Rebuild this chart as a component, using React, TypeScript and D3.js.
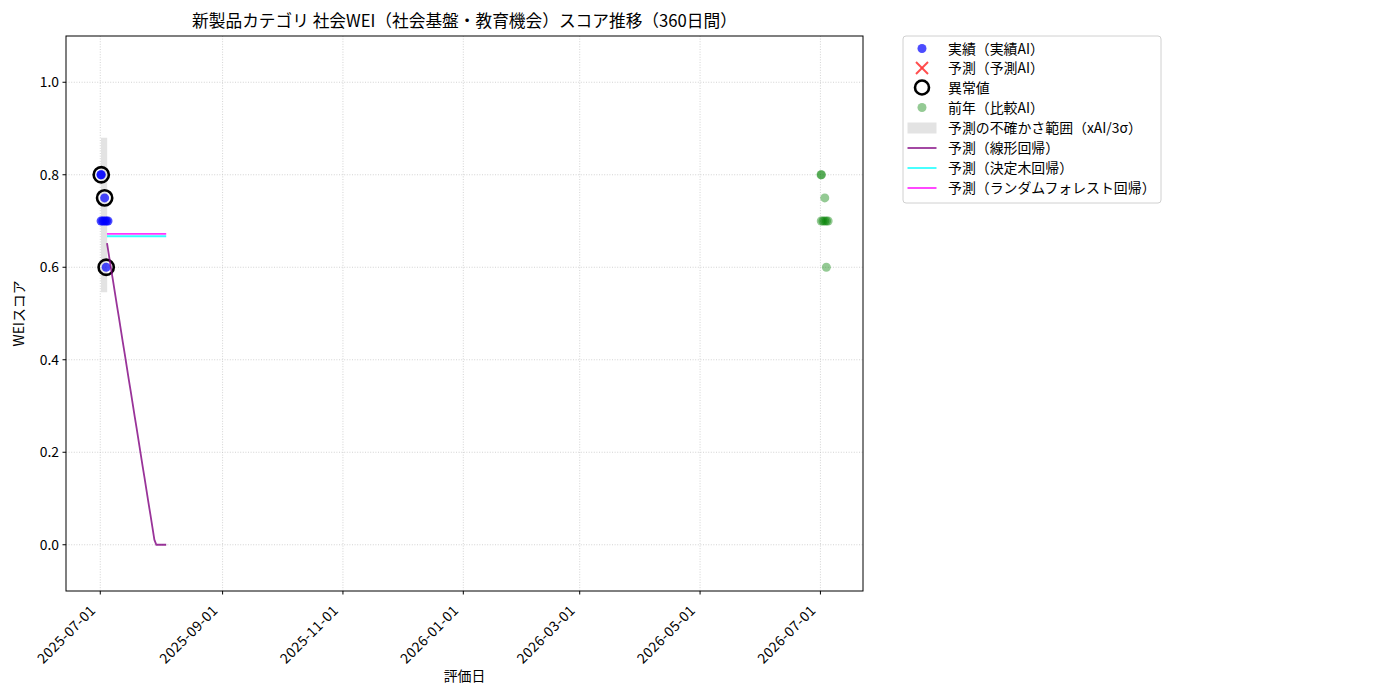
import * as d3 from "d3";
import React from "react";

// 実績データ
const actualDates = [
  "2025-07-01T07:00",
  "2025-07-01T12:00",
  "2025-07-03T05:00",
  "2025-07-01T10:00",
  "2025-07-02T07:00",
  "2025-07-03T05:00",
  "2025-07-04T02:00",
  "2025-07-04T22:00",
  "2025-07-04T00:00",
];
const actualScores = [0.8, 0.8, 0.75, 0.7, 0.7, 0.7, 0.7, 0.7, 0.6];

// 異常値
const outlierDates = ["2025-07-01T12:00", "2025-07-03T05:00", "2025-07-04T00:00"];
const outlierScores = [0.8, 0.75, 0.6];

// 前年（比較AI）
const prevDates = [
  "2026-07-01T07:00",
  "2026-07-01T12:00",
  "2026-07-03T05:00",
  "2026-07-01T10:00",
  "2026-07-02T07:00",
  "2026-07-03T05:00",
  "2026-07-04T02:00",
  "2026-07-04T22:00",
  "2026-07-04T00:00",
];
const prevScores = [0.8, 0.8, 0.75, 0.7, 0.7, 0.7, 0.7, 0.7, 0.6];

// 不確かさ範囲
const bandDates = ["2025-07-01T09:00", "2025-07-04T12:00"];
const bandLower = [0.546, 0.546];
const bandUpper = [0.88, 0.88];

// 予測（30日間）
const forecastStart = "2025-07-04T10:00";
const linearPred = [
  0.652, 0.625, 0.598, 0.572, 0.545, 0.518, 0.492, 0.465, 0.438, 0.412, 0.385,
  0.358, 0.332, 0.305, 0.278, 0.252, 0.225, 0.198, 0.171, 0.145, 0.118, 0.091,
  0.065, 0.038, 0.011, 0, 0, 0, 0, 0, 0,
];
const treePred = [
  0.667, 0.667, 0.667, 0.667, 0.667, 0.667, 0.667, 0.667, 0.667, 0.667, 0.667,
  0.667, 0.667, 0.667, 0.667, 0.667, 0.667, 0.667, 0.667, 0.667, 0.667, 0.667,
  0.667, 0.667, 0.667, 0.667, 0.667, 0.667, 0.667, 0.667, 0.667,
];
const forestPred = [
  0.672, 0.672, 0.672, 0.672, 0.672, 0.672, 0.672, 0.672, 0.672, 0.672, 0.672,
  0.672, 0.672, 0.672, 0.672, 0.672, 0.672, 0.672, 0.672, 0.672, 0.672, 0.672,
  0.672, 0.672, 0.672, 0.672, 0.672, 0.672, 0.672, 0.672, 0.672,
];

const xTickLabels = [
  "2025-07-01",
  "2025-09-01",
  "2025-11-01",
  "2026-01-01",
  "2026-03-01",
  "2026-05-01",
  "2026-07-01",
];
const yTicks = [0, 0.2, 0.4, 0.6, 0.8, 1.0];

const legendLabels = [
  "実績（実績AI）",
  "予測（予測AI）",
  "異常値",
  "前年（比較AI）",
  "予測の不確かさ範囲（xAI/3σ）",
  "予測（線形回帰）",
  "予測（決定木回帰）",
  "予測（ランダムフォレスト回帰）",
];

const title = "新製品カテゴリ 社会WEI（社会基盤・教育機会）スコア推移（360日間）";
const FONT = "'Noto Sans CJK JP', 'Noto Sans', sans-serif";
const FS = 13.9;

const parse = d3.utcParse("%Y-%m-%dT%H:%M");
const parseDay = d3.utcParse("%Y-%m-%d");

const App: React.FC = () => {
  const width = 1400;
  const height = 700;
  const margin = { top: 36, left: 66, right: 537, bottom: 109 };
  const innerW = width - margin.left - margin.right;
  const innerH = height - margin.top - margin.bottom;

  const ref0 = parseDay("2025-07-01")!;
  const ref1 = parseDay("2026-07-01")!;
  const dayMs = 86400000;
  const x = d3
    .scaleUtc()
    .domain([new Date(+ref0 - 17.37 * dayMs), new Date(+ref1 + 21.58 * dayMs)])
    .range([0, innerW]);
  const y = d3.scaleLinear().domain([-0.1, 1.1]).range([innerH, 0]);

  const fStart = parse(forecastStart)!;
  const fDates = linearPred.map((_, i) => d3.utcDay.offset(fStart, i));

  const line = d3
    .line<[Date, number]>()
    .x((d) => x(d[0]))
    .y((d) => y(d[1]));

  const area = d3
    .area<number>()
    .x((i) => x(parse(bandDates[i])!))
    .y0((i) => y(bandLower[i]))
    .y1((i) => y(bandUpper[i]));

  const xTicks = xTickLabels.map((s) => parseDay(s)!);

  const legendX = 903;
  const legendY = 36;
  const rowYs = [48.5, 68, 87.5, 107.5, 128, 148, 168, 188];

  return (
    <svg
      width={width}
      height={height}
      style={{ position: "absolute", left: 0, top: 0, background: "#fff" }}
      fontFamily={FONT}
    >
      <text x={margin.left + innerW / 2} y={27} fontSize={16.7} textAnchor="middle" fill="#000">
        {title}
      </text>
      <g transform={`translate(${margin.left},${margin.top})`}>
        {/* グリッド */}
        {xTicks.map((t, i) => (
          <line
            key={"gx" + i}
            x1={x(t)}
            x2={x(t)}
            y1={0}
            y2={innerH}
            stroke="#c8c8c8"
            strokeWidth={0.8}
            strokeDasharray="1,1.6"
          />
        ))}
        {yTicks.map((t, i) => (
          <line
            key={"gy" + i}
            x1={0}
            x2={innerW}
            y1={y(t)}
            y2={y(t)}
            stroke="#c8c8c8"
            strokeWidth={0.8}
            strokeDasharray="1,1.6"
          />
        ))}

        {/* 不確かさ範囲 */}
        <path d={area([0, 1]) ?? ""} fill="gray" fillOpacity={0.22} />

        {/* 実績 */}
        {actualDates.map((d, i) => (
          <circle
            key={"a" + i}
            cx={x(parse(d)!)}
            cy={y(actualScores[i])}
            r={4.5}
            fill="blue"
            fillOpacity={0.7}
          />
        ))}

        {/* 異常値 */}
        {outlierDates.map((d, i) => (
          <circle
            key={"o" + i}
            cx={x(parse(d)!)}
            cy={y(outlierScores[i])}
            r={7.6}
            fill="none"
            stroke="#000"
            strokeWidth={2.6}
          />
        ))}

        {/* 前年 */}
        {prevDates.map((d, i) => (
          <circle
            key={"p" + i}
            cx={x(parse(d)!)}
            cy={y(prevScores[i])}
            r={4.5}
            fill="green"
            fillOpacity={0.42}
          />
        ))}

        {/* 予測線 */}
        <path
          d={line(fDates.map((d, i) => [d, linearPred[i]])) ?? ""}
          fill="none"
          stroke="purple"
          strokeOpacity={0.8}
          strokeWidth={1.8}
        />
        <path
          d={line(fDates.map((d, i) => [d, treePred[i]])) ?? ""}
          fill="none"
          stroke="cyan"
          strokeOpacity={0.8}
          strokeWidth={1.8}
        />
        <path
          d={line(fDates.map((d, i) => [d, forestPred[i]])) ?? ""}
          fill="none"
          stroke="magenta"
          strokeOpacity={0.8}
          strokeWidth={1.8}
        />

        {/* 枠 */}
        <rect x={0} y={0} width={innerW} height={innerH} fill="none" stroke="#000" strokeWidth={1} />

        {/* X軸 */}
        {xTicks.map((t, i) => (
          <g key={"xt" + i} transform={`translate(${x(t)},${innerH})`}>
            <line y1={0} y2={3.5} stroke="#000" />
            <text
              transform="translate(-8,16) rotate(-45)"
              textAnchor="end"
              dominantBaseline="central"
              fontSize={FS}
              letterSpacing={0.4}
              fill="#000"
            >
              {xTickLabels[i]}
            </text>
          </g>
        ))}

        {/* Y軸 */}
        {yTicks.map((t, i) => (
          <g key={"yt" + i} transform={`translate(0,${y(t)})`}>
            <line x1={-3.5} x2={0} stroke="#000" />
            <text x={-7} dy="0.35em" textAnchor="end" fontSize={FS} fill="#000">
              {d3.format(".1f")(t)}
            </text>
          </g>
        ))}
      </g>

      <text x={margin.left + innerW / 2} y={681} textAnchor="middle" fontSize={FS} fill="#000">
        評価日
      </text>
      <text
        transform={`translate(24,${margin.top + innerH / 2}) rotate(-90)`}
        textAnchor="middle"
        fontSize={FS}
        fill="#000"
      >
        WEIスコア
      </text>

      {/* 凡例 */}
      <g>
        <rect
          x={legendX}
          y={legendY}
          width={258}
          height={167}
          rx={3}
          fill="#fff"
          fillOpacity={0.8}
          stroke="#d0d0d0"
        />
        <circle cx={922} cy={rowYs[0]} r={4.5} fill="blue" fillOpacity={0.7} />
        <g stroke="#ff3b3b" strokeOpacity={0.9} strokeWidth={2}>
          <line x1={916} x2={928} y1={rowYs[1] - 6} y2={rowYs[1] + 6} />
          <line x1={916} x2={928} y1={rowYs[1] + 6} y2={rowYs[1] - 6} />
        </g>
        <circle cx={922} cy={rowYs[2]} r={7} fill="none" stroke="#000" strokeWidth={2.6} />
        <circle cx={922} cy={rowYs[3]} r={4.5} fill="green" fillOpacity={0.42} />
        <rect x={907.5} y={rowYs[4] - 5.5} width={29} height={11} fill="gray" fillOpacity={0.22} />
        <line x1={907.5} x2={936.5} y1={rowYs[5]} y2={rowYs[5]} stroke="purple" strokeOpacity={0.8} strokeWidth={1.8} />
        <line x1={907.5} x2={936.5} y1={rowYs[6]} y2={rowYs[6]} stroke="cyan" strokeOpacity={0.8} strokeWidth={1.8} />
        <line x1={907.5} x2={936.5} y1={rowYs[7]} y2={rowYs[7]} stroke="magenta" strokeOpacity={0.8} strokeWidth={1.8} />
        {legendLabels.map((s, i) => (
          <text key={"lg" + i} x={948} y={rowYs[i]} dy="0.36em" fontSize={FS} fill="#000">
            {s}
          </text>
        ))}
      </g>
    </svg>
  );
};

export default App;
